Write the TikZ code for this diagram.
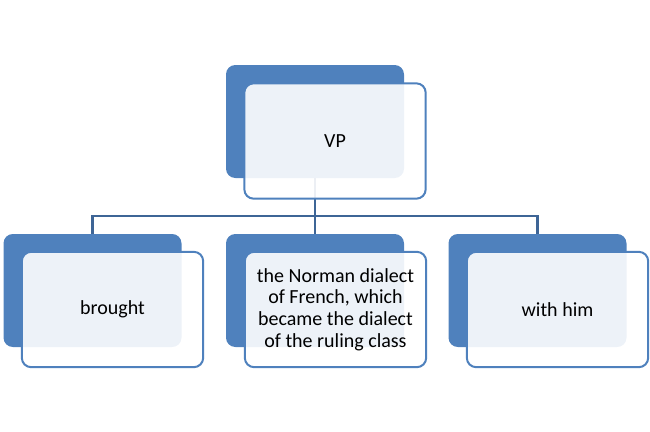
\documentclass[tikz,border=0pt]{standalone}
\usepackage{fontspec}
\setmainfont{Carlito}
\definecolor{boxblue}{HTML}{4F81BD}
\definecolor{lineblue}{HTML}{3E6596}
\begin{document}
\begin{tikzpicture}[x=0.75pt,y=-0.75pt,
	backbox/.style={fill=boxblue, rounded corners=7pt, minimum width=133.5pt, minimum height=84.75pt, inner sep=0pt},
	frontbox/.style={draw=boxblue, line width=1.5pt, fill=white, fill opacity=0.9, text opacity=1, rounded corners=7pt, minimum width=136pt, minimum height=86.5pt, inner sep=0pt, align=center, font=\fontsize{15}{16.3}\selectfont},
	link/.style={draw=lineblue, line width=1.6pt}]
				\useasboundingbox (0,0) rectangle (650,432);
				\node[backbox] (vpback) at (315,121.5) {};
				\node[backbox] (broughtback) at (92.5,290.5) {};
				\node[backbox] (normanback) at (315,290.5) {};
				\node[backbox] (withback) at (537.5,290.5) {};
				\coordinate (fork) at (315,216);
				\draw[link] (vpback.south) -- (fork);
				\draw[link] (fork) -| (broughtback.north);
				\draw[link] (fork) -- (normanback.north);
				\draw[link] (fork) -| (withback.north);
				\node[frontbox] (vp) at (335,141) {VP};
				\node[frontbox] (brought) at (112.5,309.5) {brought};
				\node[frontbox] (norman) at (335.5,309.5) {the Norman dialect\\of French, which\\became the dialect\\of the ruling class};
				\node[frontbox] (with) at (557.5,309.5) {with him};
			\end{tikzpicture}
\end{document}
